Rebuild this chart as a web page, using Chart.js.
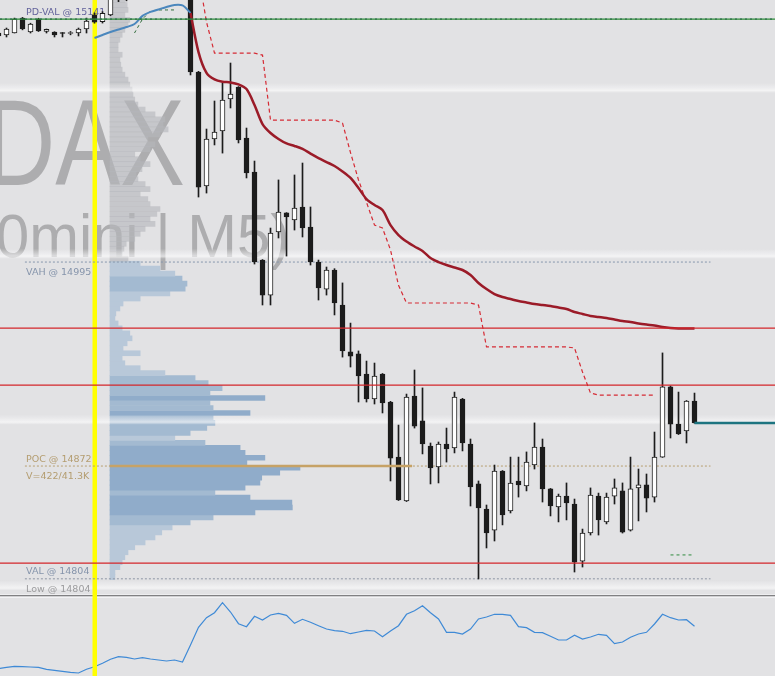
<!DOCTYPE html>
<html>
<head>
<meta charset="utf-8">
<script src="https://cdn.jsdelivr.net/npm/chart.js@4.4.1/dist/chart.umd.min.js"></script>
<style>
    html, body { margin: 0; padding: 0; background: #e2e2e4; }
    #marco { position: relative; width: 775px; height: 676px; background: #e2e2e4; overflow: hidden; }
    #marco canvas { position: absolute; left: 0; }
</style>
</head>
<body>
<div id="marco">
    <canvas id="perfil" width="775" height="594" style="top:0"></canvas>
    <canvas id="velas" width="775" height="594" style="top:0"></canvas>
    <canvas id="indicador" width="775" height="82" style="top:594px"></canvas>
</div>
<script>
// ─────────────────────────────────────────────
//  Datos: velas M5 del DAX (una entrada por vela)
// ─────────────────────────────────────────────
const aperturas = [
    15133.1, 15131.9, 15133.1, 15142.1, 15133.7, 15141.5, 15134.0, 15133.7, 15133.4, 15132.8,
    15133.1, 15135.5, 15144.0, 15140.0, 15144.0, 15157, 15163, 15160, 15166, 15170,
    15167, 15171, 15168, 15170, 15167, 15109.6, 15040.9, 15069.2, 15074.0, 15093.3,
    15100.5, 15069.8, 15049.3, 14996.2, 14975.1, 15013.1, 15024.6, 15020.4, 15028.2, 15016.1,
    14995.0, 14978.7, 14990.2, 14969.1, 14940.8, 14939.6, 14927.5, 14912.4, 14927.5, 14910.6,
    14877.4, 14850.9, 14914.2, 14899.2, 14884.1, 14871.4, 14885.3, 14882.9, 14912.4, 14885.3,
    14861.2, 14846.1, 14833.4, 14869.0, 14844.9, 14863.0, 14860.0, 14872.6, 14883.5, 14858.2,
    14847.3, 14853.9, 14849.1, 14814.7, 14831.6, 14853.9, 14838.3, 14853.9, 14857.0, 14833.4,
    14858.8, 14860.6, 14853.3, 14877.4, 14919.7, 14897.3, 14893.1, 14911.2
];
const maximos = [
    15133.5, 15136.1, 15142.1, 15142.5, 15139.0, 15142.0, 15135.5, 15133.9, 15133.4, 15134.0,
    15136.1, 15142.1, 15145.2, 15146.0, 15160, 15166, 15168, 15170, 15174, 15173,
    15175, 15174, 15173, 15172, 15170, 15110.0, 15075.2, 15092.1, 15103.0, 15115.0,
    15100.8, 15075.8, 15055.9, 14996.5, 15015.5, 15044.5, 15024.8, 15047.5, 15054.7, 15028.2,
    14996.2, 14992.0, 14991.0, 14982.4, 14958.2, 14941.4, 14935.3, 14934.1, 14927.8, 14911.0,
    14896.7, 14915.4, 14929.9, 14919.1, 14885.9, 14886.5, 14894.9, 14916.6, 14912.8, 14888.3,
    14863.0, 14848.5, 14872.6, 14869.3, 14877.4, 14877.4, 14880.5, 14898.0, 14888.3, 14858.5,
    14855.1, 14861.8, 14852.1, 14834.0, 14858.8, 14855.7, 14855.7, 14864.2, 14861.8, 14877.4,
    14870.2, 14867.2, 14892.5, 14940.2, 14920.3, 14916.6, 14911.5, 14916.0
];
const minimos = [
    15130.7, 15130.7, 15133.1, 15135.0, 15133.1, 15134.0, 15133.1, 15130.7, 15130.7, 15132.0,
    15131.3, 15133.1, 15139.0, 15139.1, 15143.5, 15152, 15152.5, 15157, 15163, 15164,
    15165, 15165, 15166, 15163, 15107.8, 15034.2, 15036.6, 15065.6, 15060.7, 15087.9,
    15066.8, 15045.7, 14993.8, 14969.1, 14969.1, 15009.5, 14998.6, 15014.3, 15010.1, 14993.2,
    14972.1, 14975.1, 14963.1, 14937.7, 14931.7, 14910.6, 14910.6, 14909.4, 14904.0, 14863.0,
    14851.2, 14850.6, 14894.9, 14879.3, 14861.2, 14861.8, 14874.4, 14879.9, 14881.1, 14847.9,
    14803.9, 14822.6, 14826.8, 14836.5, 14843.7, 14853.3, 14857.0, 14870.2, 14850.3, 14841.9,
    14838.3, 14839.5, 14808.1, 14811.1, 14830.4, 14830.4, 14837.1, 14849.1, 14831.6, 14832.8,
    14838.9, 14844.3, 14850.3, 14877.2, 14888.9, 14891.0, 14885.9, 14897.8
];
const cierres = [
    15131.3, 15135.5, 15141.5, 15135.5, 15138.5, 15134.3, 15135.3, 15131.9, 15132.8, 15133.4,
    15135.5, 15140.3, 15139.7, 15145.0, 15157, 15163, 15160, 15166, 15170, 15167,
    15171, 15168, 15170, 15167, 15109.6, 15040.2, 15069.2, 15073.4, 15092.7, 15096.3,
    15068.6, 15048.7, 14995.0, 14975.1, 15012.5, 15025.2, 15022.2, 15027.6, 15015.5, 14995.0,
    14979.4, 14990.2, 14970.3, 14941.4, 14938.3, 14926.3, 14912.4, 14926.3, 14910.0, 14876.8,
    14851.5, 14913.6, 14896.1, 14885.3, 14870.8, 14885.3, 14882.3, 14913.6, 14885.9, 14859.4,
    14846.7, 14831.6, 14869.0, 14842.5, 14861.8, 14860.6, 14874.4, 14883.5, 14858.2, 14847.9,
    14853.9, 14849.7, 14814.1, 14831.6, 14854.5, 14839.5, 14853.3, 14858.8, 14832.2, 14858.2,
    14860.6, 14852.7, 14877.4, 14919.7, 14897.3, 14891.3, 14911.2, 14898.0
];

// VWAP de la sesión (desde la vela 24) y VWAP previo (velas 12..24)
const vwapDesde = 24;
const vwapSesion = [
    15145.2, 15121.6, 15109.0, 15105.1, 15103.7, 15103.3, 15102.1, 15099.3, 15089.7, 15078.2,
    15072.8, 15069.2, 15066.5, 15065.0, 15063.2, 15060.4, 15057.7, 15055.3, 15052.9, 15049.6,
    15045.7, 15039.6, 15033.0, 15029.4, 15026.4, 15017.3, 15011.3, 15007.4, 15004.4, 15001.7,
    14997.4, 14995.0, 14993.2, 14991.7, 14990.2, 14987.2, 14982.4, 14978.7, 14975.7, 14973.9,
    14972.7, 14971.5, 14970.6, 14969.7, 14969.1, 14968.5, 14967.6, 14966.7, 14964.9, 14963.7,
    14962.5, 14961.9, 14961.3, 14960.4, 14959.5, 14958.9, 14958.0, 14957.3, 14956.7, 14955.8,
    14955.2, 14954.9, 14954.9, 14954.9
];
const vwapPrevioDesde = 12;
const vwapPrevio = [
    15130.1, 15131.9, 15133.7, 15135.2, 15136.7, 15138.5, 15143.4, 15145.8, 15147.3, 15148.8,
    15150.0, 15149.7, 15145.2
];

// Stops escalonados
const stopRojoDesde = 25;
const stopRojo = [
    15168.1, 15139.7, 15121.0, 15121.0, 15121.0, 15121.0, 15121.0, 15121.0, 15119.8, 15080.6,
    15080.6, 15080.6, 15080.6, 15080.6, 15080.6, 15080.6, 15080.6, 15080.6, 15078.8, 15061.0,
    15044.5, 15031.0, 15017.3, 15015.5, 15002.3, 14981.0, 14970.3, 14970.3, 14970.3, 14970.3,
    14970.3, 14970.3, 14970.3, 14970.3, 14970.3, 14969.1, 14943.8, 14943.8, 14943.8, 14943.8,
    14943.8, 14943.8, 14943.8, 14943.8, 14943.8, 14943.8, 14943.8, 14943.2, 14928.7, 14916.0,
    14914.8, 14914.8, 14914.8, 14914.8, 14914.8, 14914.8, 14914.8, 14914.8
];
const stopVerdeDesde = 17;
const stopVerde = [15133.1, 15141.5, 15146.4, 15147.0, 15147.0, 15147.0];
const stopVerdeBajo = { desde: 84, hasta: 86.7, precio: 14818.4 };

// Niveles
const nivelesRojos = [14955.2, 14920.8, 14813.5];
const nivelesRedondos = [15100, 15000, 14900, 14800];
const pdVal = 15141.5;
const vah = 14995;
const poc = 14872;
const val = 14804;
const minimoSesion = 14804;
const sesionInicio = 12;

const etiquetas = [
    { texto: 'PD-VAL @ 15141', precio: pdVal, lado: 'arriba', color: '#64649c' },
    { texto: 'VAH @ 14995', precio: vah, lado: 'abajo', color: '#8594ab' },
    { texto: 'POC @ 14872', precio: poc, lado: 'arriba', color: '#b49d70' },
    { texto: 'V=422/41.3K', precio: poc, lado: 'abajo', color: '#b49d70' },
    { texto: 'VAL @ 14804', precio: val, lado: 'arriba', color: '#8594ab' },
    { texto: 'Low @ 14804', precio: minimoSesion, lado: 'abajo', color: '#9c9c9e' }
];

// Perfil de volumen: filas de 3 puntos desde 14805
const perfilInicio = 14805;
const perfilPaso = 3;
const perfilVolumen = [
    11, 11, 22, 27, 33, 40, 55, 78, 100, 115,
    138, 178, 229, 322, 405, 404, 311, 233, 300, 333,
    337, 377, 422, 304, 344, 300, 289, 211, 144, 178,
    215, 233, 229, 311, 229, 222, 344, 222, 249, 218,
    189, 122, 67, 33, 27, 67, 29, 38, 49, 44,
    27, 18, 11, 13, 22, 29, 67, 133, 167, 171,
    160, 144, 111, 67, 40, 27, 31, 36, 55, 67,
    78, 100, 89, 104, 111, 89, 84, 67, 89, 78,
    62, 58, 71, 89, 67, 55, 89, 100, 84, 111,
    129, 118, 122, 100, 78, 62, 55, 51, 49, 44,
    40, 33, 27, 24, 22, 27, 18, 18, 22, 27,
    33, 40, 44, 33, 40, 38, 33
];

// Indicador inferior (una lectura por vela)
const indicador = [
    7.3, 8.7, 9.7, 9.3, 9.0, 8.7, 6.7, 5.7, 4.7, 3.7,
    3.0, 6.7, 9.3, 12.7, 16.7, 19.3, 18.7, 17.0, 18.3, 17.0,
    16.0, 15.0, 16.0, 14.0, 31.0, 48.7, 58.3, 63.3, 73.3, 64.0,
    52.3, 49.3, 59.7, 56.0, 61.0, 62.7, 60.7, 52.7, 56.7, 53.7,
    50.3, 47.0, 45.3, 44.7, 42.3, 44.0, 45.7, 45.0, 39.3, 45.0,
    50.3, 61.7, 65.3, 70.3, 63.3, 57.0, 43.7, 43.7, 42.0, 47.0,
    57.0, 59.0, 61.7, 61.7, 60.7, 49.3, 48.3, 43.7, 43.3, 39.7,
    36.0, 36.0, 40.7, 37.0, 39.0, 41.7, 40.7, 32.3, 34.0, 38.7,
    42.0, 43.7, 52.0, 61.7, 58.3, 56.0, 56.3, 49.7
];

// ─────────────────────────────────────────────
//  Escalas compartidas
// ─────────────────────────────────────────────
const X_MIN = 0.1875;
const X_MAX = X_MIN + 775 / 8;
const Y_MAX = 15153;
const Y_MIN = Y_MAX - 594 / 1.6585;
const NIVEL_DESDE = 3.3;
const NIVEL_HASTA = 89;
const POC_SOLIDO_DESDE = 13.9;
const POC_SOLIDO_HASTA = 51.7;

const idx = aperturas.map((_, i) => i);
const NEGRO = '#1c1c1c';

const baseOpts = {
    responsive: false,
    animation: false,
    events: [],
    layout: { padding: 0 },
    plugins: { legend: { display: false }, tooltip: { enabled: false } }
};

function serieDesde(desde, valores) {
    return valores.map((v, k) => ({ x: desde + k, y: v }));
}

function linea(data, color, ancho, extra = {}) {
    return Object.assign({
        type: 'line', data, borderColor: color, borderWidth: ancho,
        pointRadius: 0, fill: false, tension: 0
    }, extra);
}

function horizontal(precio, desde, hasta) {
    return [{ x: desde, y: precio }, { x: hasta, y: precio }];
}

// ─────────────────────────────────────────────
//  Capa inferior: perfil de volumen + marca de agua
// ─────────────────────────────────────────────
function textoAjustado(ctx, txt, x, base, ancho) {
    const w = ctx.measureText(txt).width;
    ctx.save();
    ctx.translate(x, base);
    ctx.scale(ancho / w, 1);
    ctx.fillText(txt, 0, 0);
    ctx.restore();
}

const fondoPlugin = {
    id: 'fondo',
    beforeDatasetsDraw(chart) {
        const ctx = chart.ctx;
        ctx.save();
        ctx.fillStyle = 'rgba(140,140,142,0.62)';
        ctx.font = '123px "Liberation Sans"';
        textoAjustado(ctx, 'DAX', -15, 185, 200);
        ctx.font = '61px "Liberation Sans"';
        textoAjustado(ctx, '0mini | M5)', -4, 257, 294);
        ctx.restore();
    },
    afterDatasetsDraw(chart) {
        const ctx = chart.ctx;
        const y = chart.scales.y;
        ctx.save();
        nivelesRedondos.forEach(n => {
            const py = y.getPixelForValue(n);
            const g = ctx.createLinearGradient(0, py - 5, 0, py + 5);
            g.addColorStop(0, 'rgba(255,255,255,0)');
            g.addColorStop(0.4, 'rgba(250,250,252,0.35)');
            g.addColorStop(0.75, 'rgba(255,255,255,0.6)');
            g.addColorStop(1, 'rgba(255,255,255,0.05)');
            ctx.fillStyle = g;
            ctx.fillRect(0, py - 5, chart.width, 10);
        });
        ctx.restore();
    }
};

function colorFila(precio, v) {
    if (precio > vah) return 'rgba(180,182,188,0.62)';
    if (v > 250) return '#90acca';
    if (v > 150) return '#a3bad1';
    return '#b8c8d9';
}

new Chart(document.getElementById('perfil'), {
    type: 'bar',
    data: {
        datasets: [{
            data: perfilVolumen.map((v, j) => ({ x: v, y: perfilInicio + perfilPaso * j })),
            backgroundColor: perfilVolumen.map((v, j) => colorFila(perfilInicio + perfilPaso * j, v)),
            borderWidth: 0,
            barPercentage: 1,
            categoryPercentage: 1
        }]
    },
    options: Object.assign({}, baseOpts, {
        indexAxis: 'y',
        scales: {
            x: { type: 'linear', display: false, min: -244.3, max: 1477 },
            y: { type: 'linear', display: false, min: Y_MIN, max: Y_MAX, offset: false }
        }
    }),
    plugins: [fondoPlugin]
});

// ─────────────────────────────────────────────
//  Capa principal: velas, VWAP, stops, niveles
// ─────────────────────────────────────────────
const sesionPlugin = {
    id: 'sesion',
    beforeDatasetsDraw(chart) {
        const ctx = chart.ctx;
        const px = chart.scales.x.getPixelForValue(sesionInicio);
        ctx.save();
        ctx.fillStyle = '#ffff00';
        ctx.fillRect(px - 2, 0, 4.5, chart.height);
        ctx.font = '9.5px "DejaVu Sans"';
        etiquetas.forEach(e => {
            const py = chart.scales.y.getPixelForValue(e.precio);
            ctx.fillStyle = e.color;
            ctx.fillText(e.texto, 26, e.lado === 'arriba' ? py - 4.5 : py + 13);
        });
        ctx.restore();
    }
};

const velasDatasets = [
    {
        type: 'bar',
        data: idx.map(i => ({ x: i, y: [minimos[i], maximos[i]] })),
        backgroundColor: NEGRO,
        barThickness: 1,
        grouped: false,
        order: 6
    },
    {
        type: 'bar',
        data: idx.map(i => ({ x: i, y: [aperturas[i], cierres[i]] })),
        backgroundColor: idx.map(i => cierres[i] >= aperturas[i] ? '#ffffff' : NEGRO),
        borderColor: NEGRO,
        borderWidth: 1,
        borderSkipped: false,
        barThickness: 5,
        grouped: false,
        order: 5
    }
];

const lineasDatasets = [
    linea(serieDesde(stopRojoDesde, stopRojo), '#d52b35', 1.2, { borderDash: [4, 3], order: 8 }),
    linea(serieDesde(stopVerdeDesde, stopVerde), '#2f6b3a', 1, { borderDash: [3, 3], order: 8 }),
    linea(horizontal(stopVerdeBajo.precio, stopVerdeBajo.desde, stopVerdeBajo.hasta), '#2e8b3e', 1, { borderDash: [3, 3], order: 8 }),
    linea(horizontal(vah, NIVEL_DESDE, NIVEL_HASTA), '#8796ad', 1, { borderDash: [2, 2], order: 7 }),
    linea(horizontal(poc, NIVEL_DESDE, NIVEL_HASTA), '#b79f70', 1, { borderDash: [2, 2], order: 7 }),
    linea(horizontal(minimoSesion, NIVEL_DESDE, NIVEL_HASTA), '#8d95a3', 1, { borderDash: [2, 2], order: 7 }),
    linea(horizontal(poc, POC_SOLIDO_DESDE, POC_SOLIDO_HASTA), '#c6a266', 2.5, { order: 3 }),
    linea(serieDesde(vwapDesde, vwapSesion), '#9b1b28', 2.5, { tension: 0.3, order: 2 }),
    linea(serieDesde(vwapPrevioDesde, vwapPrevio), '#4b87bd', 2, { tension: 0.3, order: 2 }),
    linea(horizontal(pdVal, X_MIN, X_MAX), '#2a8a35', 1.2, { order: 1 }),
    linea(horizontal(pdVal, X_MIN, X_MAX), '#2b3a78', 1.2, { borderDash: [2, 3], order: 1 }),
    ...nivelesRojos.map(n => linea(horizontal(n, X_MIN, X_MAX), '#d3262b', 1.2, { order: 1 })),
    linea(horizontal(cierres[cierres.length - 1], idx.length - 1, X_MAX), '#1d7480', 2.5, { order: 1 })
];

new Chart(document.getElementById('velas'), {
    type: 'bar',
    data: { datasets: [...velasDatasets, ...lineasDatasets] },
    options: Object.assign({}, baseOpts, {
        scales: {
            x: { type: 'linear', display: false, min: X_MIN, max: X_MAX, offset: false },
            y: { type: 'linear', display: false, min: Y_MIN, max: Y_MAX }
        }
    }),
    plugins: [sesionPlugin]
});

// ─────────────────────────────────────────────
//  Panel inferior: indicador
// ─────────────────────────────────────────────
const separadorPlugin = {
    id: 'separador',
    beforeDraw(chart) {
        const ctx = chart.ctx;
        const w = chart.width;
        ctx.save();
        ctx.fillStyle = '#eeeef0'; ctx.fillRect(0, 0, w, 1);
        ctx.fillStyle = '#808082'; ctx.fillRect(0, 1, w, 1);
        ctx.fillStyle = '#d0d0d2'; ctx.fillRect(0, 2, w, 1);
        ctx.fillStyle = '#f2f2f4'; ctx.fillRect(0, 3, w, 1);
        ctx.restore();
    },
    afterDraw(chart) {
        const ctx = chart.ctx;
        const px = chart.scales.x.getPixelForValue(sesionInicio);
        ctx.save();
        ctx.fillStyle = '#ffff00';
        ctx.fillRect(px - 2, 0, 4.5, chart.height);
        ctx.restore();
    }
};

new Chart(document.getElementById('indicador'), {
    type: 'line',
    data: {
        datasets: [{
            data: idx.map(i => ({ x: i, y: indicador[i] })),
            borderColor: '#3f8ad6',
            borderWidth: 1.2,
            pointRadius: 0,
            tension: 0
        }]
    },
    options: Object.assign({}, baseOpts, {
        layout: { padding: { top: 4 } },
        scales: {
            x: { type: 'linear', display: false, min: X_MIN, max: X_MAX },
            y: { type: 'linear', display: false, min: 0, max: 78 }
        }
    }),
    plugins: [separadorPlugin]
});
</script>
</body>
</html>
